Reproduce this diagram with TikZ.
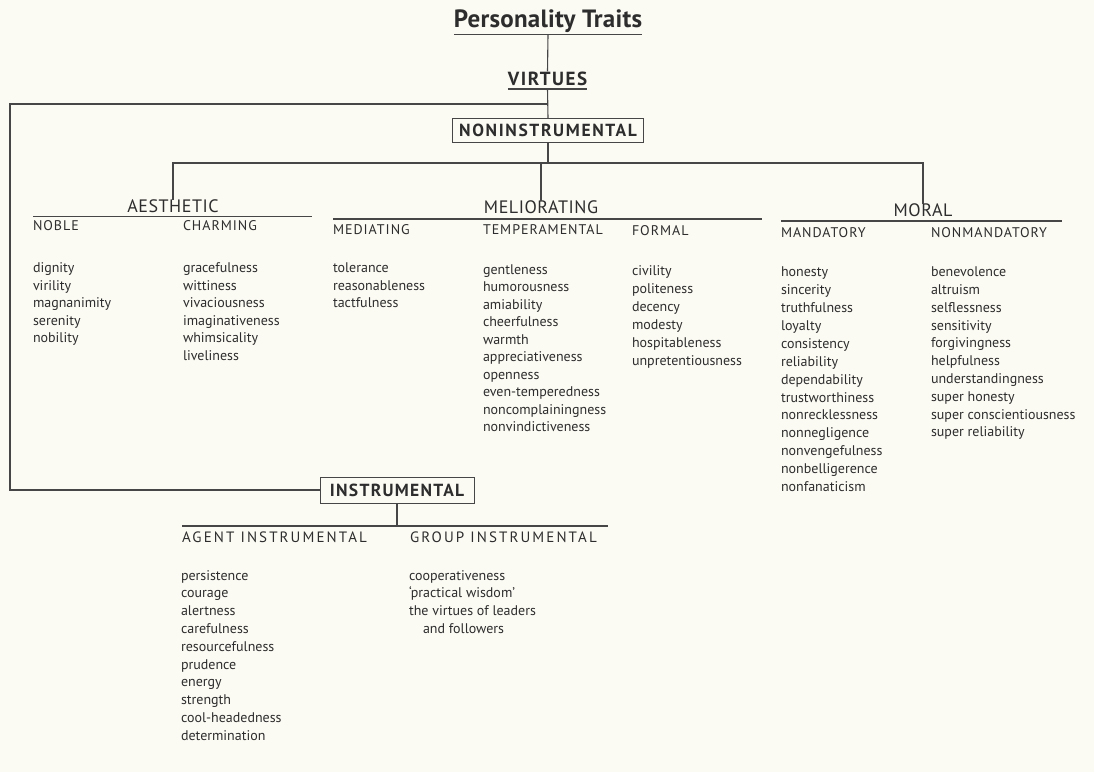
\documentclass[tikz,border=0pt]{standalone}
\usepackage{fontspec}
\setmainfont{PT Sans}
\newfontfamily\titlefont[LetterSpace=1]{PT Sans}
\newfontfamily\virtfont[LetterSpace=8]{PT Sans}
\newfontfamily\boxfontA[LetterSpace=9.4]{PT Sans}
\newfontfamily\boxfontB[LetterSpace=7.4]{PT Sans}
\newfontfamily\headfont[LetterSpace=3]{PT Sans}
\newfontfamily\subfont[LetterSpace=7]{PT Sans}
\newfontfamily\subfontB[LetterSpace=14]{PT Sans}
\definecolor{paper}{RGB}{251,250,243}
\definecolor{ink}{RGB}{45,45,45}
\definecolor{rule}{RGB}{70,70,70}
\newcommand\traitlist[5]{%
  \foreach \t [count=\i from 0] in {#5} {\node[item] (#1\i) at (#2,{#3+\i*#4}) {\t};}}
\begin{document}
\begin{tikzpicture}[x=1pt,y=-1pt,
  every node/.style={inner sep=0pt,outer sep=0pt,text=ink},
  titlestyle/.style={font=\titlefont\fontsize{25}{28}\selectfont\bfseries,anchor=base},
  virtstyle/.style={font=\virtfont\fontsize{19}{22}\selectfont\bfseries,anchor=base},
  boxstyle/.style={draw=rule,line width=1pt,anchor=center},
  headstyle/.style={font=\headfont\fontsize{18}{20}\selectfont,anchor=base},
  substyle/.style={font=\subfont\fontsize{14}{16}\selectfont,anchor=base west},
  subBstyle/.style={font=\subfontB\fontsize{15}{17}\selectfont,anchor=base west},
  item/.style={font=\fontsize{14}{16}\selectfont,anchor=base west},
  conn/.style={draw=rule,line width=1.1pt},
  frame/.style={draw=rule,line width=2pt}]
\fill[paper] (0,0) rectangle (1094,772);
\useasboundingbox (0,0) rectangle (1094,772);

% top levels
\node[titlestyle] (title) at (548,27.5) {Personality Traits};
\node[virtstyle] (virt) at (547.5,85) {VIRTUES};
\node[boxstyle,minimum width=191pt,minimum height=24pt,font=\boxfontA\fontsize{17.5}{20}\selectfont\bfseries] (nonins) at (548,130) {NONINSTRUMENTAL};
\node[boxstyle,minimum width=154pt,minimum height=26pt,font=\boxfontB\fontsize{17.5}{20}\selectfont\bfseries] (ins) at (397,490) {INSTRUMENTAL};

\coordinate (tU) at ([yshift=-7pt]title.base);
\draw[conn] ([yshift=-7pt]title.base west) -- ([yshift=-7pt]title.base east);
\draw[conn] (tU) -- (virt.north);
\coordinate (vU) at ([yshift=-4pt]virt.base);
\draw[conn] ([yshift=-4pt]virt.base west) -- ([yshift=-4pt]virt.base east);
\draw[conn] (vU) -- (nonins.north);

% frame to instrumental
\coordinate (vj) at (548,104);
\coordinate (fBL) at (10,490);
\draw[frame] (vj) -| (fBL) -- (ins.west);

% main categories
\node[headstyle] (aes) at (173,212.5) {AESTHETIC};
\node[headstyle] (mel) at (541,213.5) {MELIORATING};
\node[headstyle] (mor) at (923,216.7) {MORAL};
\coordinate (br) at (548,163);
\draw[conn] (nonins.south) -- (br);
\draw[conn] (aes.north) |- (br) -| (mor.north);
\draw[conn] (mel.north |- br) -- (mel.north);

\coordinate (aesL) at (33,216.5);  \coordinate (aesR) at (312,216.5);
\coordinate (melL) at (333,219);   \coordinate (melR) at (762,219);
\coordinate (morL) at (781,221);   \coordinate (morR) at (1062,221);
\draw[conn] (aesL) -- (aesR);
\draw[conn] (melL) -- (melR);
\draw[conn] (morL) -- (morR);

% instrumental branch
\coordinate (insL) at (182,526);  \coordinate (insR) at (608,526);
\draw[conn] (insL) -- (insR);
\draw[conn] (ins.south) -- (ins.south |- insL);

% sub headings
\node[substyle] (noble) at (33,230.7) {NOBLE};
\node[substyle] (charm) at (183,230.7) {CHARMING};
\node[substyle] (medi) at (333,234) {MEDIATING};
\node[substyle] (temp) at (483,234) {TEMPERAMENTAL};
\node[substyle] (form) at (632,235) {FORMAL};
\node[substyle] (mand) at (781,237.3) {MANDATORY};
\node[substyle] (nonm) at (931,237.3) {NONMANDATORY};
\node[subBstyle] (agent) at (182,542.7) {AGENT INSTRUMENTAL};
\node[subBstyle] (group) at (410,542.7) {GROUP INSTRUMENTAL};

% trait lists
\traitlist{nob}{33}{272.7}{17.5}{dignity,virility,magnanimity,serenity,nobility}
\traitlist{cha}{183}{272.7}{17.5}{gracefulness,wittiness,vivaciousness,imaginativeness,whimsicality,liveliness}
\traitlist{med}{333}{272.7}{17.5}{tolerance,reasonableness,tactfulness}
\traitlist{tem}{483}{274}{17.55}{gentleness,humorousness,amiability,cheerfulness,warmth,appreciativeness,openness,even-temperedness,noncomplainingness,nonvindictiveness}
\traitlist{for}{632}{275}{18}{civility,politeness,decency,modesty,hospitableness,unpretentiousness}
\traitlist{man}{781}{276.7}{17.9}{honesty,sincerity,truthfulness,loyalty,consistency,reliability,dependability,trustworthiness,nonrecklessness,nonnegligence,nonvengefulness,nonbelligerence,nonfanaticism}
\traitlist{nma}{931}{276.7}{17.8}{benevolence,altruism,selflessness,sensitivity,forgivingness,helpfulness,understandingness,super honesty,super conscientiousness,super reliability}
\traitlist{age}{181}{580}{17.8}{persistence,courage,alertness,carefulness,resourcefulness,prudence,energy,strength,cool-headedness,determination}
\traitlist{gro}{409}{580}{17.8}{cooperativeness,‘practical wisdom’,the virtues of leaders,\hspace*{14pt}and followers}
\end{tikzpicture}
\end{document}
